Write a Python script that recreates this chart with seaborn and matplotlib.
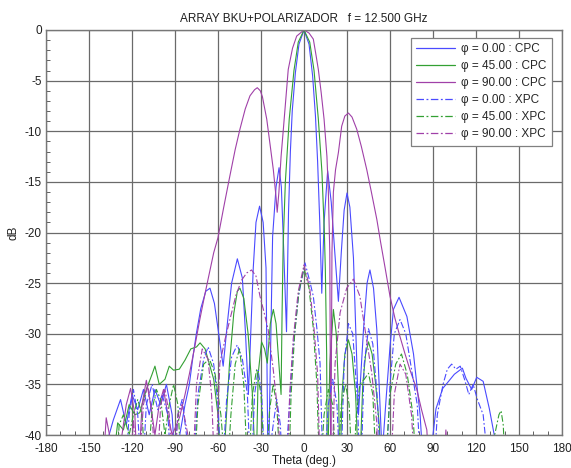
import numpy as np
import pandas as pd
import matplotlib
matplotlib.use("Agg")
import matplotlib.pyplot as plt
import seaborn as sns
from matplotlib.ticker import MultipleLocator
from matplotlib.lines import Line2D

# ---------------- data ----------------
# phi = 0 : CPC (blue, solid)
theta_cpc0 = [-140, -136, -133, -128, -124, -120, -116, -112, -108, -104, -100, -96, -92, -89,
              -86.7, -83, -80, -77.4, -75, -72, -68.5, -65.6, -62.5, -59.5, -56.4, -53.5, -50.5,
              -46.5, -43, -40.8, -38.8, -35.4, -33.5, -31, -28.5, -26.5, -25, -21.9, -19.5, -17.4,
              -15.8, -14.5, -12.2, -10.8, -9.5, -8.2, -6, -3.5, 0, 3.5, 6, 8, 9.5, 11, 12.4, 14,
              16.5, 19, 21.5, 24, 26, 28, 30, 32, 34.5, 38, 41.5, 44, 46, 48.5, 50.8, 54.5, 57.5,
              60, 62.4, 66.3, 71.8, 76.4, 81, 84, 89.8, 92.1, 96.8, 100.3, 104.9, 110.5, 113,
              117, 120.5, 125, 129.3, 133, 136]
db_cpc0 = [-45, -40, -38.5, -36.5, -39, -36, -37.5, -35.5, -38, -35.5, -37, -35, -38, -45,
           -40, -37, -35, -32.2, -29.9, -27.5, -25.8, -25.5, -27, -30, -33.2, -29, -25,
           -22.6, -24.5, -30, -36, -23.5, -19, -17.4, -19, -23.5, -45, -20.4, -15.5, -13.6,
           -15.5, -20.4, -29.8, -18, -12, -8, -4.2, -1.4, 0, -1.4, -4.5, -8.5, -13, -19, -26, -19,
           -13.9, -17, -22, -26.8, -22, -17.8, -16.1, -17.5, -22.5, -38, -29.6, -25, -23.7, -25.5, -29.6, -42, -36,
           -31.3, -27.6, -26.4, -28.3, -32, -38, -45, -40.2, -37.4, -35.4, -34.8, -34.0, -33.4, -34.4,
           -35.5, -34.3, -34.7, -37.4, -40.2, -45]

# phi = 45 : CPC (green, solid)
theta_cpc45 = [-135, -130, -126, -122, -118, -114.6, -110, -106, -104, -101, -97, -94, -91, -87,
               -83, -79, -75, -72.5, -69, -66, -63, -60, -57, -52, -49, -46.5, -44.7, -42, -39,
               -36, -33.5, -32, -29.6, -27.5, -25.6, -23.5, -21.4, -19.5, -17.5, -16, -15.3,
               -14.5, -13, -10.3, -7, -4, 0, 4, 7, 10, 12.5, 14.2, 14.9, 15.8, 16.3, 18, 20.5,
               22.5, 24.2, 25, 26.5, 28.5, 31, 33.5, 36, 38.5, 41, 43, 45, 47.5, 50, 52.5, 54.3]
db_cpc45 = [-45, -38.8, -39.5, -37, -38, -37.8, -35.5, -34, -33.2, -35, -34.5, -33.2, -33.6, -33.5,
            -32.6, -31.5, -31.3, -30.9, -31.5, -33, -34.5, -38, -45, -33, -28, -25.8, -25.5, -26.5, -30,
            -36, -45, -34, -30.8, -31.5, -32.9, -29, -27.6, -29, -33, -36, -28,
            -21, -15, -8.8, -4, -1.2, 0, -1.2, -4, -8.8, -14, -20, -23.7, -32, -45, -33, -27.6,
            -30, -36, -45, -36, -32, -30.6, -32, -36, -45, -35, -32, -30.8, -32, -35, -39, -45]

# phi = 90 : CPC (magenta, solid)
theta_cpc90 = [-141, -138, -135, -131, -127, -124, -121, -118, -116, -113, -110, -107, -104, -101,
               -98, -95, -92, -89, -86.7, -83, -80, -76.5, -72.7, -69, -66, -63, -60, -56, -51.7,
               -48, -44.7, -41, -37.7, -34.5, -32.6, -30.5, -29, -26, -23.5, -21.4, -19.5, -18.7,
               -17.5, -16, -14.4, -12.5, -11, -8, -5.1, 0, 3.5, 6.5, 8.4, 10, 12, 14, 16, 17, 18,
               18.7, 19.5, 20.5, 22, 24, 26.3, 28.5, 31, 33.5, 36.8, 40, 43.8, 47, 50.8, 53.5,
               56.6, 60, 63.5, 67, 70.5, 74, 78.7, 82, 85.7, 88, 97, 99, 101]
db_cpc90 = [-45, -38.3, -40.5, -45, -40, -37, -35.4, -38, -45, -37, -34.6, -37, -40, -37,
            -35.5, -38, -40, -39, -38.2, -36, -34, -31.5, -28.6, -26, -24, -22, -20.5, -17.5, -14.4,
            -11.8, -9.8, -7.8, -6.5, -5.9, -5.7, -6, -6.6, -8.8, -11.5, -13.8, -16.5, -18,
            -16, -12.5, -9.8, -6.5, -3.9, -1.8, -0.6, 0, -0.3, -0.9, -2.5, -3.9, -6.2, -8.8, -12.5, -16, -22,
            -45, -22, -16, -13.8, -12.1, -9.5, -8.5, -8.2, -8.6, -9.8, -11.5, -13.8, -16, -18.7, -21,
            -23.5, -26.3, -28.5, -30.3, -32, -33.6, -35.5, -37.5, -39.5, -45, -45, -39.5, -45]

# phi = 0 : XPC (blue, dash-dot)
theta_xpc0 = [-125, -122, -119, -116, -113, -110, -106, -102, -99, -95, -92, -88, -85, -82, -80,
              -78, -74, -70, -66.9, -63, -60, -57.5, -54, -50.5, -46.6, -43, -39.5, -37, -34.5,
              -32, -29.5, -27, -21.5, -19, -16.5, -14.5, -11.5, -9.8, -7.5, -3.9, 0.7, 4, 6.5,
              9, 11.2, 13.5, 17, 20, 23, 25.5, 28, 31, 34, 37, 39.5, 42, 45, 48, 51, 54, 57,
              60, 63, 67, 71, 75, 79, 82, 90, 93, 97, 100, 103, 106, 109, 112, 115, 118, 121,
              125, 130]
db_xpc0 = [-45, -38, -35.5, -38, -45, -37, -35, -37.5, -36, -38, -45, -38, -36.5, -40, -45,
           -45, -36, -32.5, -31.3, -33, -37, -45, -36.5, -32.3, -31.1, -32.5, -36, -45, -36,
           -33.6, -36, -45, -39, -36.5, -39, -45, -40, -36.2, -31.3, -26.3, -23, -24.8, -26.3,
           -29.5, -32.9, -45, -37, -34.5, -37, -45, -33, -29, -30, -36, -45, -33, -29.5, -31, -36, -45, -45,
           -35, -30, -28.6, -30, -33.5, -37, -45, -45, -38, -35, -33.5, -33, -33.5, -33.2, -34.5, -36, -35, -36.5,
           -38, -45]

# phi = 45 : XPC (green, dash-dot)
theta_xpc45 = [-131, -129, -126, -122, -119, -116, -113, -110, -106, -103, -100, -97, -94, -91, -88,
               -85, -77, -74, -70, -66, -62, -58, -54, -51, -48, -45, -42, -39, -36, -33, -30,
               -27, -24, -21.5, -19, -16, -11, -9, -6.5, -3.5, 0, 3.5, 6.5, 9, 11, 14, 17, 20,
               23, 26, 29, 31.5, 34, 36.5, 39, 42, 45, 48, 51, 56, 60, 64, 68, 72, 76, 79, 130,
               133, 136, 137.5, 139, 141]
db_xpc45 = [-45, -39, -38, -40, -38, -36.5, -38, -45, -37.5, -35.5, -36.5, -40, -37, -35, -37,
            -45, -45, -37, -33, -32.5, -34, -38, -45, -38, -33, -31.5, -35, -45, -36, -33.5, -36,
            -45, -37.5, -35, -37, -45, -45, -36, -30, -25.8, -23.5, -25.5, -29.5, -35, -45, -38, -35.5, -37,
            -45, -37, -35, -37, -45, -38, -35, -34.5, -33.9, -36, -45, -45, -36, -33, -32, -34, -38, -45, -45,
            -40, -38, -37.6, -39, -45]

# phi = 90 : XPC (magenta, dash-dot)
theta_xpc90 = [-122, -119, -116, -112, -109, -106, -103, -100, -97, -94, -91, -88, -85, -81, -79,
               -78, -75, -71, -67, -64.5, -62, -58.7, -55, -51.7, -47.5, -43.5, -40, -36.6, -33.5,
               -30.7, -28, -25, -21.4, -18, -15.5, -12, -10, -7.5, -4, 0, 4, 7, 9.5, 11.5, 19.3,
               21.7, 25.2, 29.8, 34.5, 39, 42.6, 47.3, 50.8, 52, 60, 63, 67, 71, 75, 78]
db_xpc90 = [-45, -38.5, -45, -37, -35, -38, -45, -37, -35.5, -38, -45, -38, -37, -40, -45,
            -45, -35, -31.5, -32.5, -36, -45, -32.9, -30.5, -28.6, -26.2, -24.7, -24, -23.7, -24.3,
            -26.3, -27.8, -29.6, -33.6, -38.2, -45, -45, -36, -30.5, -25.8, -23.2, -25.5, -29.5, -34, -45, -45,
            -32.9, -27.9, -25.5, -24.6, -26.3, -29.6, -33.9, -38.8, -45, -45, -36, -33, -34, -38, -45]

series_labels = ["\u03c6 = 0.00 : CPC", "\u03c6 = 45.00 : CPC", "\u03c6 = 90.00 : CPC",
                 "\u03c6 = 0.00 : XPC", "\u03c6 = 45.00 : XPC", "\u03c6 = 90.00 : XPC"]
title_text = "ARRAY BKU+POLARIZADOR   f = 12.500 GHz"
x_ticks = list(range(-180, 181, 30))
y_ticks = list(range(-40, 1, 5))

# ---------------- style ----------------
sns.set_theme(style="white")
plt.rcParams["font.family"] = ["Liberation Sans", "DejaVu Sans"]
plt.rcParams["axes.unicode_minus"] = False

fig = plt.figure(figsize=(5.71, 4.68), dpi=100)
ax = fig.add_axes([46 / 571, 1 - 435 / 468, (562 - 46) / 571, (435 - 30) / 468])

blue = "#4a4aff"
green = "#33a033"
magenta = "#a040a8"
dashdot = (0, (6, 2, 1.5, 2))

specs = [
    (theta_cpc0, db_cpc0, blue, "-"),
    (theta_cpc45, db_cpc45, green, "-"),
    (theta_cpc90, db_cpc90, magenta, "-"),
    (theta_xpc0, db_xpc0, blue, dashdot),
    (theta_xpc45, db_xpc45, green, dashdot),
    (theta_xpc90, db_xpc90, magenta, dashdot),
]

handles = []
for (th, db, col, ls), lab in zip(specs, series_labels):
    df = pd.DataFrame({"theta": th, "dB": db})
    sns.lineplot(data=df, x="theta", y="dB", ax=ax, color=col, linewidth=0.8,
                 linestyle=ls, estimator=None, sort=False, legend=False)
    handles.append(Line2D([], [], color=col, linewidth=0.9, linestyle=ls, label=lab))

ax.set_xlim(-180, 180)
ax.set_ylim(-40, 0)
ax.set_xticks(x_ticks)
ax.set_yticks(y_ticks)
ax.xaxis.set_minor_locator(MultipleLocator(10))
ax.yaxis.set_minor_locator(MultipleLocator(1))
ax.tick_params(which="major", direction="in", length=0, labelsize=8.5, colors="#202020")
ax.tick_params(axis="x", which="major", pad=6)
ax.tick_params(axis="y", which="major", pad=3)
ax.tick_params(which="minor", direction="in", length=3, color="#606060", width=0.7,
               bottom=True, left=True, top=False, right=False)
ax.grid(True, which="major", color="#6a6a6a", linewidth=0.9)
for s in ax.spines.values():
    s.set_color("#777777")
    s.set_linewidth(1.0)

ax.set_xlabel("Theta (deg.)", fontsize=8.5, labelpad=0, color="#202020")
ax.set_ylabel("dB", fontsize=8.5, labelpad=4, color="#202020")
ax.set_title(title_text, fontsize=8.5, pad=6, color="#202020")

leg = ax.legend(handles=handles, loc="upper right", bbox_to_anchor=(0.98, 0.98),
                borderaxespad=0, fontsize=8.5, handlelength=3.3, handletextpad=0.5,
                labelspacing=0.42, frameon=True, fancybox=False, borderpad=0.45)
leg.get_frame().set_edgecolor("#808080")
leg.get_frame().set_linewidth(0.9)
leg.get_frame().set_facecolor("white")
leg.get_frame().set_alpha(1)

fig.savefig("out.png", dpi=100)
